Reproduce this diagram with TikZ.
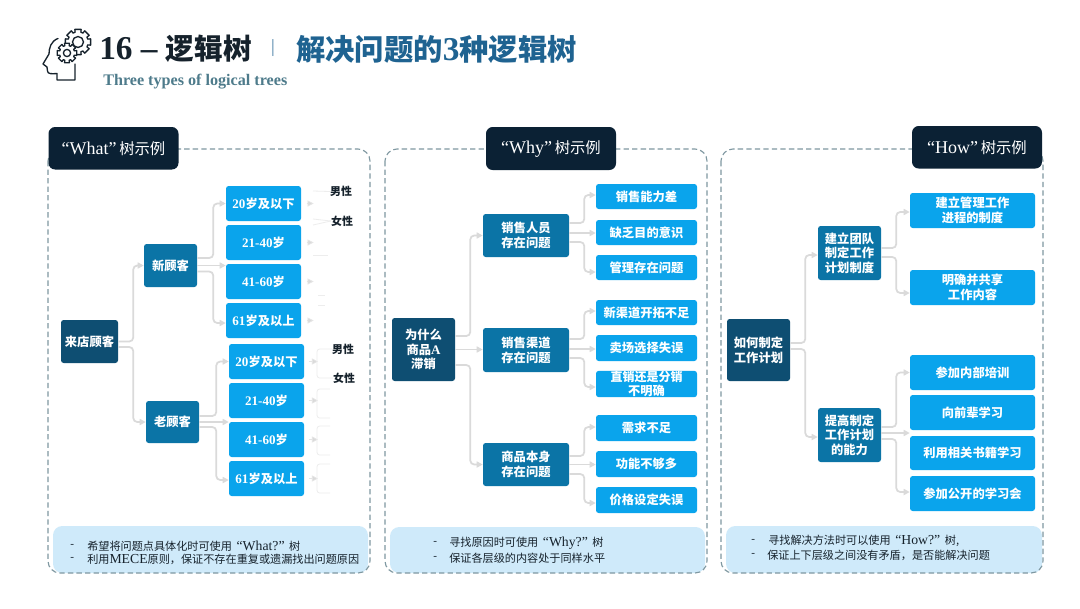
\documentclass[tikz,border=0pt]{standalone}
\usepackage{fontspec}
\setmainfont{Noto Sans CJK SC}
\newfontfamily\lat{Liberation Serif}
\usetikzlibrary{arrows.meta}
\definecolor{cRoot}{HTML}{0E4E72}
\definecolor{cMid}{HTML}{0B74A6}
\definecolor{cLeaf}{HTML}{0AA4EC}
\definecolor{cTab}{HTML}{0B2134}
\definecolor{cNote}{HTML}{CFEAFA}
\definecolor{cDash}{HTML}{7F98A1}
\definecolor{cConn}{HTML}{DADADA}
\definecolor{cFaint}{HTML}{EDEDED}
\definecolor{cTitle}{HTML}{1F6391}
\definecolor{cSub}{HTML}{4E7B8B}
\definecolor{cInk}{HTML}{16222C}
\tikzset{
  box/.style={rounded corners=2pt,inner sep=0pt,text=white,align=center,font=\fontsize{9.2}{11}\selectfont\bfseries},
  rootbox/.style={box,fill=cRoot},
  midbox/.style={box,fill=cMid},
  leafbox/.style={box,fill=cLeaf},
  tabbox/.style={rounded corners=5pt,inner sep=0pt,fill=cTab,text=white,font=\fontsize{11.5}{13}\selectfont},
  panel/.style={draw=cDash,line width=0.85pt,dash pattern=on 4pt off 2.4pt,rounded corners=9pt},
  notebox/.style={fill=cNote,rounded corners=7pt},
  notetext/.style={anchor=west,inner sep=0pt,text=cInk,font=\fontsize{8.35}{10}\selectfont},
  tagtext/.style={inner sep=0pt,text=cInk,font=\fontsize{8.2}{10}\selectfont\bfseries},
  conn/.style={draw=cConn,line width=1.3pt,rounded corners=3pt,-{Triangle[length=4.5pt,width=4.5pt]}},
  tiny/.style={draw=cConn!70,line width=0.5pt,-{Triangle[length=4.5pt,width=4.5pt,fill=cConn]}},
  faint/.style={draw=cFaint,line width=0.6pt,rounded corners=2pt},
  icon/.style={draw=cInk,line width=1pt,line join=round,line cap=round},
}
% name, style, x1, y1, x2, y2, text
\newcommand{\bx}[7]{%
  \pgfmathsetlengthmacro{\bw}{(#5-#3)*0.75pt}%
  \pgfmathsetlengthmacro{\bh}{(#6-#4)*0.75pt}%
  \node[#2,minimum width=\bw,minimum height=\bh] (#1) at ({(#3+#5)/2},{(#4+#6)/2}) {#7};}
% from, from offset, to, to offset, horizontal run
\newcommand{\elb}[5]{\draw[conn] ([yshift=#2*0.75pt]#1.east) -- ++(#5,0) |- ([yshift=#4*0.75pt]#3.west);}
\newcommand{\strt}[3]{\draw[conn] ([yshift=#2*0.75pt]#1.east) -- ([yshift=#2*0.75pt]#1.east -| #3.west);}
\newcommand{\gearshape}[5]{%
  \begin{scope}[shift={(#1,#2)}]
  \draw[icon,fill=white] (-14:#3) \foreach \a in {0,45,...,315}{ -- (\a-14:#3) -- (\a+14:#3) -- (\a+22.5-6:#4) -- (\a+22.5+6:#4)} -- cycle;
  \draw[icon] (0,0) circle[radius=#5];
  \end{scope}}
\newcommand{\lt}[1]{{\lat\fontsize{9.8}{11}\selectfont #1}}
\newcommand{\qt}[1]{{\lat\fontsize{10.3}{11}\selectfont\,\,#1\,\,}}
\begin{document}
\begin{tikzpicture}[x=0.75pt,y=-0.75pt]
\useasboundingbox (0,0) rectangle (1080,608);
\fill[white] (0,0) rectangle (1080,608);

% icon
\draw[icon] (58,38.5) .. controls (51,41) and (49,48) .. (49,54) -- (43,64) -- (47,67) -- (47.5,71) .. controls (48,74) and (51,74) .. (57,73.5) -- (57,80) -- (75,80) -- (75,64);
\gearshape{78}{42}{13}{10.2}{5.5}
\gearshape{67}{53}{10}{7.6}{3.6}

% title
\node[anchor=west,inner sep=0pt,text=cInk,font=\fontsize{21.5}{24}\selectfont\bfseries] (t1) at (99,49) {{\lat\fontsize{25}{24}\selectfont 16 – }逻辑树};
\node[inner sep=0pt,text=cTitle!80,font=\lat\fontsize{14}{16}\selectfont] (t2) at (273,48) {|};
\node[anchor=west,inner sep=0pt,text=cTitle,font=\fontsize{22}{24}\selectfont\bfseries] (t3) at (296,49) {解决问题的{\lat\fontsize{25}{24}\selectfont 3}种逻辑树};
\node[anchor=west,inner sep=0pt,text=cSub,font=\lat\fontsize{12.1}{14}\selectfont\bfseries] (t4) at (103,82) {Three types of logical trees};

% panels
\bx{nA}{notebox}{53}{526}{368}{573}{}
\bx{nB}{notebox}{390}{527}{705}{573}{}
\bx{nC}{notebox}{726}{526}{1042}{573}{}
\draw[panel] (48,149) rectangle (370,573);
\draw[panel] (385,149) rectangle (707,573);
\draw[panel] (721,149) rectangle (1043,573);
\bx{tA}{tabbox}{48.5}{127}{178.5}{169.5}{{\lat\fontsize{13.5}{14}\selectfont “What”}\,树示例}
\bx{tB}{tabbox}{486}{127}{616}{170}{{\lat\fontsize{13.5}{14}\selectfont “Why”}\,树示例}
\bx{tC}{tabbox}{912}{126}{1042}{168.5}{{\lat\fontsize{13.5}{14}\selectfont “How”}\,树示例}

% notes
\node[notetext] (a1d) at (70,546) {\lat -};
\node[notetext] (a1) at (87,546) {希望将问题点具体化时可使用\qt{“What?”}树};
\node[notetext] (a2d) at (70,559) {\lat -};
\node[notetext] (a2) at (87,559) {利用{\lat\fontsize{10.3}{11}\selectfont MECE}原则，保证不存在重复或遗漏找出问题原因};
\node[notetext] (b1d) at (433,543) {\lat -};
\node[notetext] (b1) at (449,543) {寻找原因时可使用\qt{“Why?”}树};
\node[notetext] (b2d) at (433,558) {\lat -};
\node[notetext] (b2) at (449,558) {保证各层级的内容处于同样水平};
\node[notetext] (c1d) at (751,541) {\lat -};
\node[notetext] (c1) at (768,541) {寻找解决方法时可以使用\qt{“How?”}树,};
\node[notetext] (c2d) at (751,555) {\lat -};
\node[notetext] (c2) at (767,555) {保证上下层级之间没有矛盾，是否能解决问题};

% WHAT tree
\bx{wR}{rootbox}{61}{320}{118}{363}{来店顾客}
\bx{wN}{midbox}{144}{244}{197}{287}{新顾客}
\bx{wO}{midbox}{146}{401}{199}{443}{老顾客}
\bx{w1}{leafbox}{226}{186}{301}{221}{\lt{20}岁及以下}
\bx{w2}{leafbox}{226}{225}{301}{260}{\lt{21-40}岁}
\bx{w3}{leafbox}{226}{264}{301}{299}{\lt{41-60}岁}
\bx{w4}{leafbox}{226}{303}{301}{338}{\lt{61}岁及以上}
\bx{w5}{leafbox}{229}{344}{304}{379}{\lt{20}岁及以下}
\bx{w6}{leafbox}{229}{383}{304}{418}{\lt{21-40}岁}
\bx{w7}{leafbox}{229}{422}{304}{457}{\lt{41-60}岁}
\bx{w8}{leafbox}{229}{461}{304}{496}{\lt{61}岁及以上}
\elb{wR}{0}{wN}{0}{15}
\elb{wR}{-5.5}{wO}{0}{15}
\elb{wN}{7.5}{w1}{0}{16}
\strt{wN}{0}{w3}
\elb{wN}{-6}{w4}{-2.5}{16}
\elb{wO}{6}{w5}{0}{17}
\strt{wO}{0}{w7}
\elb{wO}{-5}{w8}{-1.5}{17}

% tags
\node[tagtext] (m1) at (341,191.5) {男性};
\node[tagtext] (f1) at (342,221) {女性};
\node[tagtext] (m2) at (343,349) {男性};
\node[tagtext] (f2) at (344,378) {女性};
\foreach \n in {w1,w2,w3,w4}{\draw[tiny] ([xshift=4pt]\n.east) -- ++(7,0);}
\foreach \n in {w5,w6,w7,w8}{\draw[tiny] ([xshift=3.5pt]\n.east) -- ++(9,0);}
\draw[faint] (313,191) -- (m1.west);
\draw[faint] (313,219) -- (f1.west);
\draw[faint] (313,225) -- (f1.west);
\draw[faint] (313,255) -- (328,255);
\draw[faint] (318,295) -- (325,295);
\draw[faint] (318,305) -- (325,305);
\draw[faint] (m2.west) -- (317,349) -- (317,378) -- (f2.west);
\draw[faint] (330,389) -- (317,389) -- (317,418) -- (330,418);
\draw[faint] (330,426) -- (317,426) -- (317,455) -- (330,455);
\draw[faint] (330,464) -- (317,464) -- (317,493) -- (330,493);

% WHY tree
\bx{yR}{rootbox}{392}{318}{455}{381}{为什么\\商品{\lt{A}}\\滞销}
\bx{y1}{midbox}{483}{214}{569}{257}{销售人员\\存在问题}
\bx{y2}{midbox}{483}{328}{569}{372}{销售渠道\\存在问题}
\bx{y3}{midbox}{483}{443}{569}{486}{商品本身\\存在问题}
\bx{ya}{leafbox}{596}{184}{697}{209}{销售能力差}
\bx{yb}{leafbox}{596}{220}{697}{245}{缺乏目的意识}
\bx{yc}{leafbox}{596}{255}{697}{280}{管理存在问题}
\bx{yd}{leafbox}{596}{300}{697}{325}{新渠道开拓不足}
\bx{ye}{leafbox}{596}{335}{697}{361}{卖场选择失误}
\bx{yf}{leafbox}{596}{371}{697}{397}{\fontsize{9}{10.4}\selectfont 直销还是分销\\不明确}
\bx{yg}{leafbox}{596}{415}{697}{441}{需求不足}
\bx{yh}{leafbox}{596}{451}{697}{477}{功能不够多}
\bx{yi}{leafbox}{596}{487}{697}{513}{价格设定失误}
\elb{yR}{13.5}{y1}{0}{15}
\strt{yR}{0}{y2}
\elb{yR}{-15.5}{y3}{0}{15}
\elb{y1}{12.5}{ya}{1.5}{15}
\strt{y1}{2.5}{yb}
\elb{y1}{-6.5}{yc}{-4.5}{15}
\elb{y2}{11}{yd}{1.5}{15}
\strt{y2}{1}{ye}
\elb{y2}{-8}{yf}{-3}{15}
\elb{y3}{8.5}{yg}{1}{15}
\strt{y3}{0}{yh}
\elb{y3}{-9.5}{yi}{-3}{15}

% HOW tree
\bx{hR}{rootbox}{727}{319}{790}{381}{如何制定\\工作计划}
\bx{h1}{midbox}{818}{226}{881}{280}{建立团队\\制定工作\\计划制度}
\bx{h2}{midbox}{818}{408}{881}{462}{提高制定\\工作计划\\的能力}
\bx{ha}{leafbox}{910}{193}{1035}{228}{建立管理工作\\进程的制度}
\bx{hb}{leafbox}{910}{270}{1035}{305}{明确并共享\\工作内容}
\bx{hc}{leafbox}{910}{355}{1035}{390}{参加内部培训}
\bx{hd}{leafbox}{910}{395}{1035}{430}{向前辈学习}
\bx{he}{leafbox}{910}{436}{1035}{470}{利用相关书籍学习}
\bx{hf}{leafbox}{910}{476}{1035}{511}{参加公开的学习会}
\elb{hR}{7}{h1}{-2}{15}
\elb{hR}{1}{h2}{-2}{15}
\elb{h1}{5}{ha}{-1.5}{15}
\elb{h1}{-4}{hb}{-5.5}{15}
\elb{h2}{8}{hc}{0}{15}
\strt{h2}{2}{hd}
\elb{h2}{-4}{hf}{1.5}{15}
\end{tikzpicture}
\end{document}
